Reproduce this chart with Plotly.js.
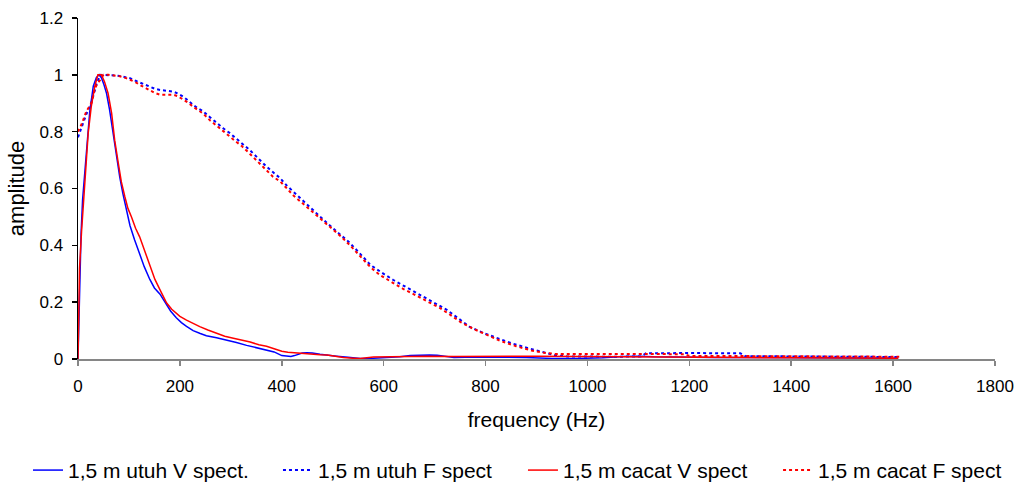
<!DOCTYPE html>
<html>
<head>
<meta charset="utf-8">
<script src="https://cdn.plot.ly/plotly-3.0.1.min.js"></script>
<style>
  html, body { margin: 0; padding: 0; background: #ffffff; }
  #chart { width: 1022px; height: 488px; }
</style>
</head>
<body>
<div id="chart"></div>
<script>
// Spectra of the 1.5 m pile: intact (utuh) and defective (cacat), velocity (V) and force (F)

// 1,5 m utuh V spect. — frequency (Hz) and normalised amplitude
const utuhV_freq = [0,3,6,9,13,18,23,30,36,41,46,51,56,62,69,75,82,88,95,102,111,121,130,141,150,161,172,182,193,203,213,226,240,252,272,292,311,331,350,370,385,400,410,418,425,432,440,449,460,475,490,508,530,554,580,605,632,652,672,690,705,722,738,760,790,830,880,930,980,1030,1070,1100,1130,1180,1250,1350,1450,1550,1610];
const utuhV_amp  = [0,0.25,0.44,0.56,0.65,0.75,0.87,0.96,0.99,1.0,0.99,0.965,0.935,0.877,0.795,0.712,0.64,0.583,0.52,0.47,0.42,0.37,0.325,0.28,0.25,0.228,0.195,0.168,0.145,0.128,0.115,0.1,0.09,0.082,0.075,0.067,0.058,0.048,0.04,0.032,0.025,0.012,0.009,0.009,0.012,0.017,0.021,0.022,0.021,0.017,0.013,0.01,0.006,0.002,0.003,0.005,0.008,0.012,0.014,0.014,0.013,0.01,0.005,0.006,0.007,0.007,0.005,0.002,0.002,0.004,0.009,0.01,0.008,0.006,0.005,0.005,0.004,0.004,0.003];

// 1,5 m utuh F spect.
const utuhF_freq = [0,8,16,26,36,43,52,62,72,82,92,102,112,121,131,141,151,161,174,187,196,206,216,226,236,246,259,272,285,298,310,324,336,347,358,370,383,397,410,423,442,465,489,510,531,553,574,597,619,645,672,698,724,751,768,795,821,850,882,910,935,960,1000,1050,1105,1115,1200,1300,1310,1420,1530,1612];
const utuhF_amp  = [0.78,0.82,0.86,0.9,0.965,1.0,1.0,1.0,0.998,0.996,0.992,0.988,0.98,0.973,0.965,0.957,0.951,0.947,0.944,0.941,0.934,0.924,0.91,0.894,0.882,0.871,0.851,0.83,0.812,0.795,0.777,0.754,0.737,0.718,0.698,0.677,0.657,0.636,0.61,0.588,0.554,0.516,0.478,0.445,0.413,0.372,0.331,0.303,0.278,0.252,0.225,0.198,0.173,0.137,0.114,0.092,0.074,0.056,0.039,0.025,0.014,0.009,0.008,0.008,0.009,0.02,0.021,0.02,0.01,0.008,0.008,0.007];

// 1,5 m cacat V spect.
const cacatV_freq = [0,3,7,10,13,20,26,33,39,46,52,59,66,72,79,85,92,98,105,113,121,128,134,142,151,162,174,184,193,200,213,226,239,255,272,288,305,320,338,355,370,385,400,412,423,436,456,475,489,505,521,540,554,580,619,652,685,737,800,900,1000,1100,1200,1300,1400,1500,1610];
const cacatV_amp  = [0,0.32,0.45,0.53,0.607,0.795,0.888,0.96,1.0,1.0,0.976,0.935,0.865,0.77,0.69,0.624,0.571,0.53,0.5,0.46,0.43,0.395,0.36,0.32,0.28,0.24,0.197,0.175,0.161,0.15,0.137,0.125,0.114,0.102,0.09,0.08,0.073,0.067,0.06,0.05,0.045,0.036,0.027,0.024,0.022,0.02,0.017,0.015,0.014,0.01,0.005,0.003,0.002,0.007,0.008,0.01,0.01,0.009,0.01,0.01,0.009,0.007,0.006,0.005,0.004,0.004,0.003];

// 1,5 m cacat F spect.
const cacatF_freq = [0,8,16,26,33,38,43,50,60,72,82,92,102,112,121,131,141,151,161,174,187,196,206,216,226,236,246,259,272,285,298,310,321,334,347,358,370,383,397,423,446,469,492,515,534,554,574,593,616,639,662,685,710,731,751,775,800,830,860,890,915,935,1000,1100,1190,1200,1300,1400,1500,1612];
const cacatF_amp  = [0.8,0.83,0.87,0.9,0.95,0.97,0.98,1.0,1.0,0.998,0.995,0.99,0.983,0.975,0.965,0.955,0.945,0.936,0.93,0.93,0.93,0.925,0.915,0.902,0.888,0.876,0.863,0.84,0.82,0.8,0.783,0.765,0.75,0.728,0.704,0.684,0.664,0.641,0.625,0.575,0.54,0.505,0.468,0.433,0.4,0.362,0.323,0.295,0.27,0.246,0.225,0.204,0.18,0.155,0.13,0.107,0.087,0.063,0.045,0.03,0.022,0.018,0.018,0.018,0.017,0.011,0.01,0.01,0.009,0.008];

const seriesNames = ['1,5 m utuh V spect.', '1,5 m utuh F spect', '1,5 m cacat V spect', '1,5 m cacat F spect'];

const BLUE = '#0000ff';
const RED = '#ff0000';
const FONT = 'Liberation Sans, Arial, sans-serif';

const traces = [
  { x: utuhV_freq,  y: utuhV_amp,  name: seriesNames[0], legend: 'legend',  line: { color: BLUE, width: 1.5 } },
  { x: utuhF_freq,  y: utuhF_amp,  name: seriesNames[1], legend: 'legend2', line: { color: BLUE, width: 2, dash: 'dot' } },
  { x: cacatV_freq, y: cacatV_amp, name: seriesNames[2], legend: 'legend3', line: { color: RED,  width: 1.5 } },
  { x: cacatF_freq, y: cacatF_amp, name: seriesNames[3], legend: 'legend4', line: { color: RED,  width: 2, dash: 'dot' } }
].map(t => Object.assign({ type: 'scatter', mode: 'lines', hoverinfo: 'skip' }, t));

// One single-entry legend per series, laid out in a row under the x-axis title
function legendAt(xFrac) {
  return {
    orientation: 'h',
    xref: 'container', yref: 'container',
    x: xFrac, xanchor: 'left',
    y: 0.036, yanchor: 'middle',
    font: { family: FONT, size: 21, color: '#000000' },
    bgcolor: 'rgba(0,0,0,0)'
  };
}

const layout = {
  width: 1022,
  height: 488,
  margin: { l: 78, r: 27, t: 18, b: 129 },
  paper_bgcolor: '#ffffff',
  plot_bgcolor: '#ffffff',
  font: { family: FONT, size: 17, color: '#000000' },
  showlegend: true,
  legend:  legendAt(0.0274),
  legend2: legendAt(0.272),
  legend3: legendAt(0.5117),
  legend4: legendAt(0.7613),
  xaxis: {
    range: [0, 1800],
    tick0: 0, dtick: 200,
    showgrid: false, zeroline: false,
    showline: true, linecolor: '#868686', linewidth: 1.5,
    ticks: 'outside', ticklen: 5, tickcolor: '#868686', tickwidth: 1.5,
    ticklabelstandoff: 6,
    tickfont: { family: FONT, size: 17, color: '#000000' },
    title: { text: 'frequency (Hz)', font: { family: FONT, size: 21, color: '#000000' }, standoff: 17 }
  },
  yaxis: {
    range: [0, 1.2],
    tick0: 0, dtick: 0.2,
    showgrid: false, zeroline: false,
    showline: true, linecolor: '#000000', linewidth: 1.5,
    ticks: 'outside', ticklen: 5, tickcolor: '#000000', tickwidth: 1.5,
    ticklabelstandoff: 5,
    tickfont: { family: FONT, size: 17, color: '#000000' },
    title: { text: 'amplitude', font: { family: FONT, size: 22, color: '#000000' }, standoff: 9 }
  }
};

Plotly.newPlot('chart', traces, layout, { displayModeBar: false, staticPlot: true });
</script>
</body>
</html>
